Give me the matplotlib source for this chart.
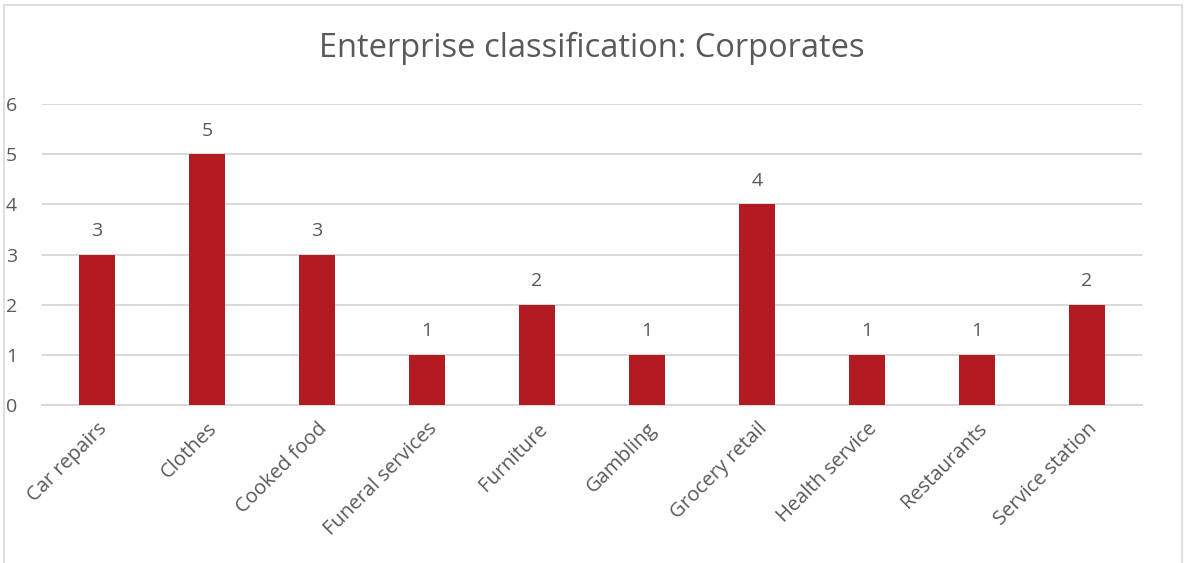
import matplotlib
matplotlib.use("Agg")
import matplotlib.pyplot as plt
from matplotlib.patches import Rectangle

categories = ["Car repairs", "Clothes", "Cooked food", "Funeral services", "Furniture",
              "Gambling", "Grocery retail", "Health service", "Restaurants", "Service station"]
counts = [3, 5, 3, 1, 2, 1, 4, 1, 1, 2]
y_ticks = [0, 1, 2, 3, 4, 5, 6]
title = "Enterprise classification: Corporates"

bar_color = "#B31B23"
text_color = "#595959"
grid_color = "#D9D9D9"

plt.rcParams["font.family"] = ["Open Sans", "DejaVu Sans"]

W, H = 1184, 563
fig = plt.figure(figsize=(W / 100, H / 100), dpi=100)
fig.patch.set_facecolor("white")

# chart frame
fig.patches.append(Rectangle((4 / W, -0.1), (W - 6) / W, 1.1 - 5 / H,
                             transform=fig.transFigure, fill=False,
                             edgecolor="#D9D9D9", linewidth=1.2))

ax = fig.add_axes([42 / W, 1 - 405 / H, 1100 / W, 301 / H])
x = list(range(len(categories)))
ax.bar(x, counts, width=0.32, color=bar_color, zorder=3)

ax.set_xlim(-0.5, len(categories) - 0.5)
ax.set_ylim(0, 6)
ax.set_yticks(y_ticks)
ax.set_yticklabels([str(v) for v in y_ticks])
ax.yaxis.grid(True, color=grid_color, linewidth=1.4, zorder=0)
ax.set_axisbelow(True)
for s in ["top", "right", "left"]:
    ax.spines[s].set_visible(False)
ax.spines["bottom"].set_color(grid_color)
ax.spines["bottom"].set_linewidth(1.4)
ax.tick_params(axis="both", length=0, labelsize=14, colors=text_color)
ax.tick_params(axis="y", pad=18)

ax.set_xticks(x)
ax.set_xticklabels(categories, rotation=45, ha="right", va="top",
                   rotation_mode="anchor", fontsize=14.5, color=text_color)
ax.tick_params(axis="x", pad=10)

for xi, v in zip(x, counts):
    ax.annotate(str(v), (xi, v), xytext=(0, 17), textcoords="offset points",
                ha="center", va="center", fontsize=14, color=text_color)

fig.text(0.5, 1 - 48 / H, title, ha="center", va="center", fontsize=23.5, color=text_color)

fig.savefig("out.png", dpi=100, facecolor="white")
